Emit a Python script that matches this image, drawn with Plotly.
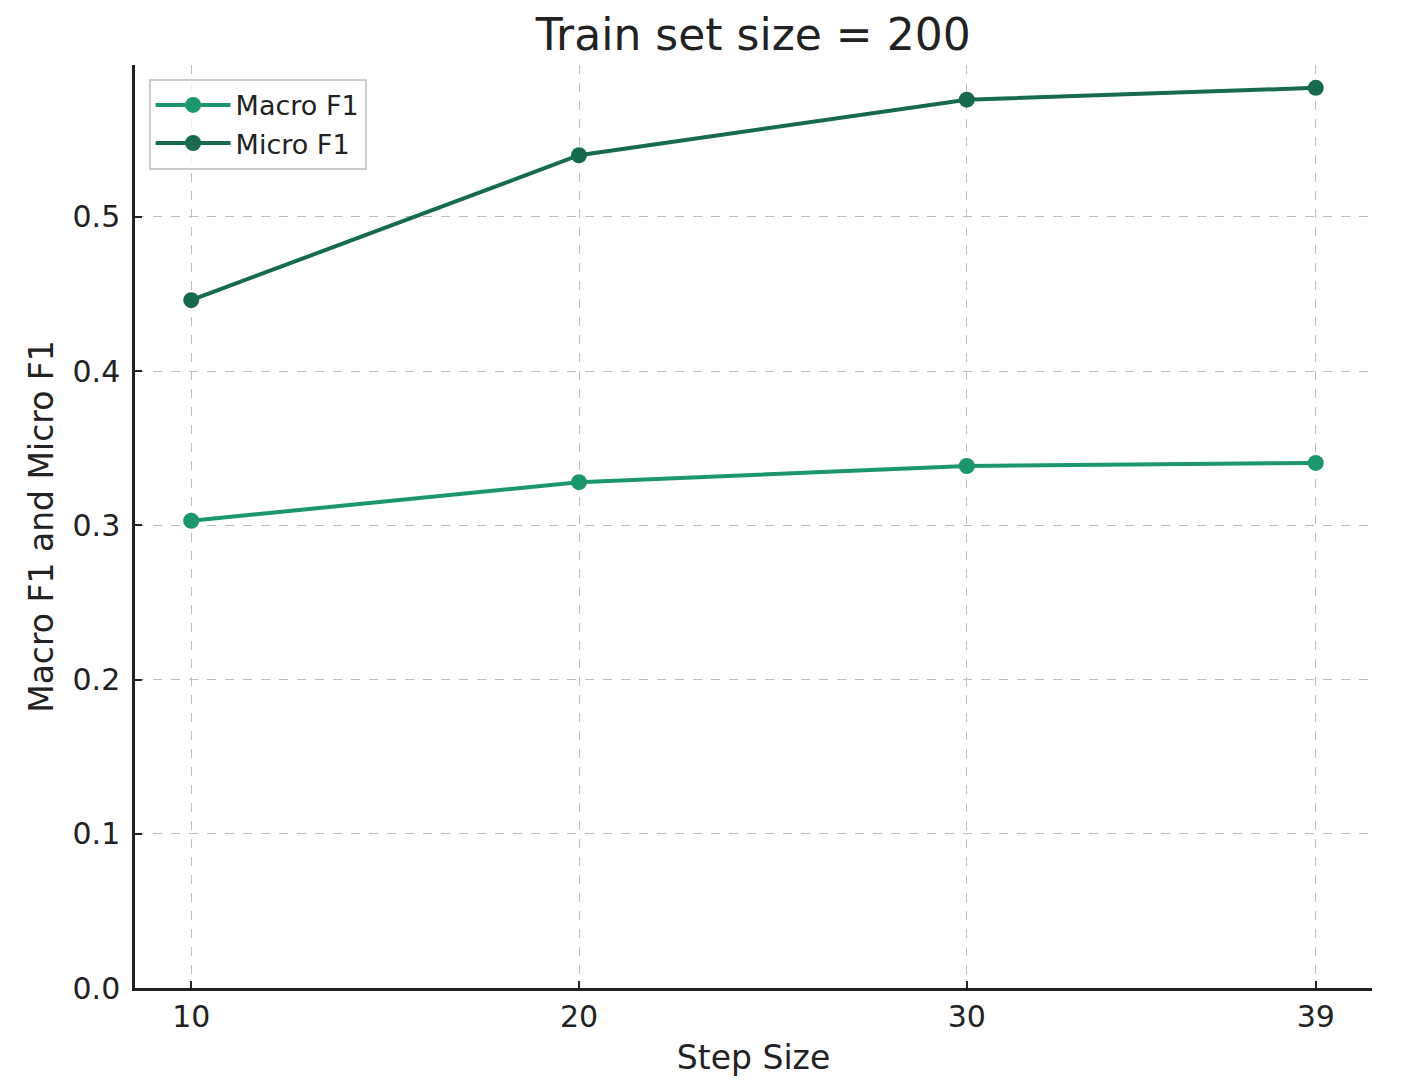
import plotly.graph_objects as go

step_sizes = [10, 20, 30, 39]
macro_f1 = [0.303, 0.328, 0.3385, 0.3405]
micro_f1 = [0.446, 0.540, 0.576, 0.5837]
y_ticks = [0.0, 0.1, 0.2, 0.3, 0.4, 0.5]

macro_color = "#1b976b"
micro_color = "#176a4c"

fig = go.Figure()
fig.add_trace(go.Scatter(x=step_sizes, y=macro_f1, mode="lines+markers", name="Macro F1",
                         line=dict(color=macro_color, width=4),
                         marker=dict(color=macro_color, size=16)))
fig.add_trace(go.Scatter(x=step_sizes, y=micro_f1, mode="lines+markers", name="Micro F1",
                         line=dict(color=micro_color, width=4),
                         marker=dict(color=micro_color, size=16)))

grid = dict(showgrid=True, gridcolor="#bdbdbd", griddash="dash", gridwidth=1.3,
            showline=True, linecolor="#222222", linewidth=2.5,
            ticks="inside", ticklen=7, tickwidth=2, tickcolor="#222222",
            zeroline=False, tickfont=dict(size=30))

fig.update_layout(
    width=1414, height=1082,
    paper_bgcolor="white", plot_bgcolor="white",
    margin=dict(l=127, r=50, t=57, b=102),
    font=dict(family="DejaVu Sans", color="#222222", size=30),
    title=dict(text="Train set size = 200", x=0.527, xanchor="center", y=0.975, yanchor="middle",
               font=dict(size=44, color="#222222")),
    showlegend=True,
    legend=dict(x=0.011, y=0.985, xanchor="left", yanchor="top",
                bgcolor="rgba(255,255,255,0.8)", bordercolor="#cccccc", borderwidth=2,
                font=dict(size=27, color="#222222"), itemwidth=75),
    xaxis=dict(range=[8.55, 40.45], tickvals=step_sizes, ticktext=[str(v) for v in step_sizes],
               title=dict(text="Step Size", font=dict(size=33), standoff=14), **grid),
    yaxis=dict(range=[0, 0.5985], tickvals=y_ticks, ticktext=[f"{v:.1f}" for v in y_ticks],
               ticklabelstandoff=6,
               title=dict(text="Macro F1 and Micro F1", font=dict(size=33), standoff=9), **grid),
)

fig.write_html("out.html")
